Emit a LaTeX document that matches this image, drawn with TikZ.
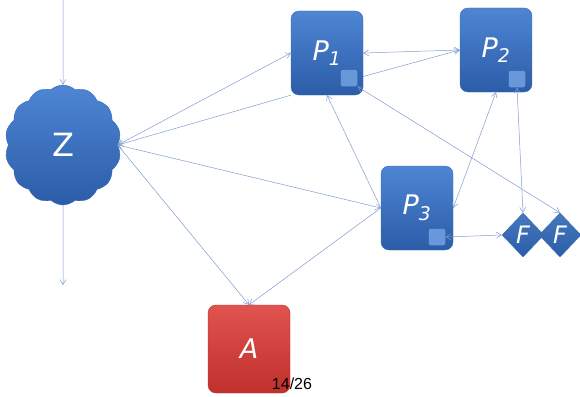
\documentclass[tikz,border=0pt]{standalone}
\usepackage{fontspec}
\setmainfont{DejaVu Sans}
\newfontfamily\numfont{Liberation Sans}
\usetikzlibrary{shapes.symbols,shapes.geometric,arrows.meta}
\definecolor{boxtop}{HTML}{4E86D4}
\definecolor{boxbot}{HTML}{2B5CA8}
\definecolor{boxline}{HTML}{3A6CB6}
\definecolor{redtop}{HTML}{E0534E}
\definecolor{redbot}{HTML}{C0302C}
\definecolor{link}{HTML}{7E9DCF}
\begin{document}
\begin{tikzpicture}[x=1pt,y=-1pt,
  proc/.style={draw=boxline,top color=boxtop,bottom color=boxbot,rounded corners=8pt,
    minimum width=72pt,minimum height=84pt,inner sep=0pt,text=white,
    font=\fontsize{27}{30}\selectfont\itshape},
  tiny/.style={draw=boxbot,fill=boxtop!85!white,rounded corners=2pt,minimum size=17pt,inner sep=0pt},
  fdia/.style={diamond,draw=boxline,top color=boxtop!90!black,bottom color=boxbot,minimum width=42pt,
    minimum height=44pt,inner sep=0pt,text=white,font=\fontsize{24}{27}\selectfont\itshape},
  lnk/.style={draw=link,line width=0.5pt,-{Straight Barb[length=5pt,width=6pt]}},
  both/.style={lnk,{Straight Barb[length=5pt,width=6pt]}-{Straight Barb[length=5pt,width=6pt]}}]
  \useasboundingbox (0,0) rectangle (580,396);
  \node[cloud,cloud puffs=14,cloud puff arc=85,aspect=0.95,draw=boxline,top color=boxtop,
    bottom color=boxbot,minimum width=116pt,minimum height=120pt,inner sep=0pt,text=white,
    font=\fontsize{32}{36}\selectfont] (z) at (63,145) {Z};
  \node[proc] (p1) at (327,53) {P\textsubscript{1}};
  \node[proc] (p2) at (496,50) {P\textsubscript{2}};
  \node[proc] (p3) at (417,208) {P\textsubscript{3}};
  \node[proc,draw=redbot,top color=redtop,bottom color=redbot,minimum width=82pt,
    minimum height=88pt] (a) at (249,349) {A};
  \node[tiny] (p1s) at (349,78) {};
  \node[tiny] (p2s) at (517,79) {};
  \node[tiny] (p3s) at (437,237) {};
  \node[fdia] (f1) at (523,235) {F};
  \node[fdia] (f2) at (560,235) {F};
  \node[font=\numfont\fontsize{16}{18}\selectfont] (pg) at (292,384) {14/26};
  \coordinate (ztop) at (63,0);
  \coordinate (zbot) at (63,285);
  \draw[lnk] (ztop) -- (z.north);
  \draw[lnk] (z.south) -- (zbot);
  \draw[both] (z.east) -- (p1.west);
  \draw[lnk] (p1.south west) -- (z.east);
  \draw[both] (z.east) -- (p3.west);
  \draw[lnk] (z.east) -- (a.north);
  \draw[lnk] (p3.west) -- (a.north);
  \draw[lnk] (p3.west) -- (p1.south);
  \draw[both] (p1.east) -- (p2.west);
  \draw[lnk] (p1.-33) -- (p2.west);
  \draw[both] (p1s.south east) -- (f2.north);
  \draw[both] (p2.south) -- (p3.east);
  \draw[both] (p2s.south) -- (f1.north);
  \draw[both] (p3s.east) -- (f1.west);
\end{tikzpicture}
\end{document}
